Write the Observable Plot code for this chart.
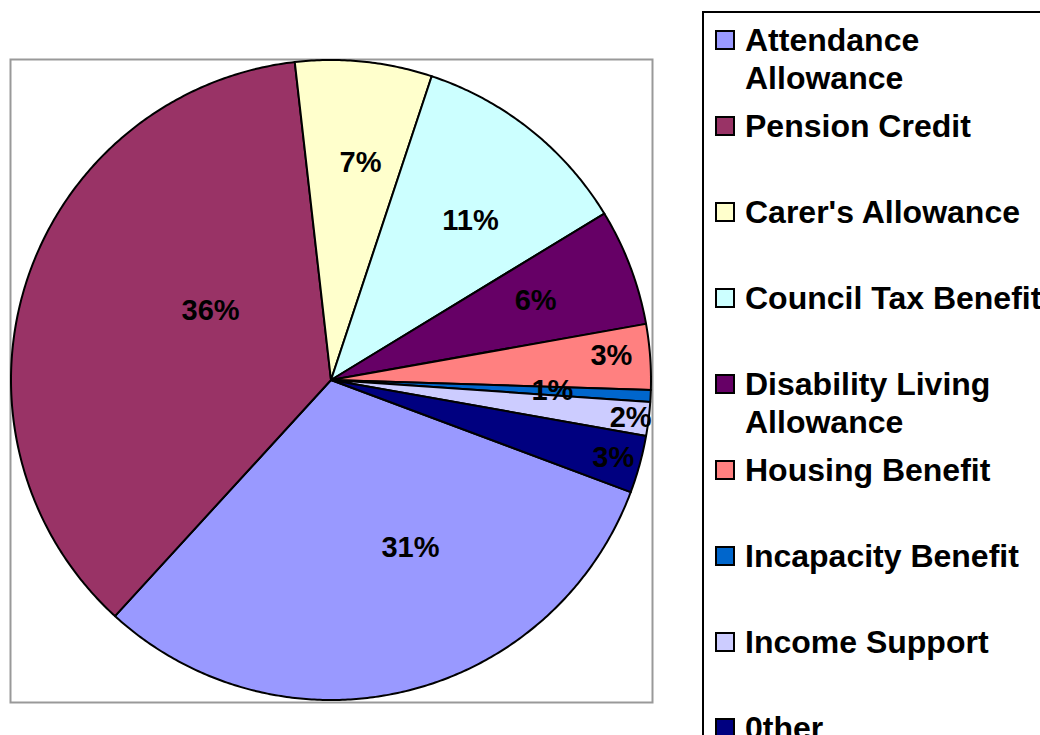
<!DOCTYPE html>
<html><head><meta charset="utf-8">
<script src="https://cdn.jsdelivr.net/npm/d3@7"></script>
<script src="https://cdn.jsdelivr.net/npm/@observablehq/plot@0.6"></script>
<style>
html,body{margin:0;padding:0;background:#fff;overflow:hidden;}
#wrap{position:relative;width:1040px;height:735px;overflow:hidden;background:#fff;}
#chart{position:absolute;left:0;top:0;}
#legend{position:absolute;left:702px;top:11px;width:400px;height:800px;border:2px solid #000;box-sizing:border-box;background:#fff;font-family:"Liberation Sans",Arial,sans-serif;font-weight:bold;font-size:32px;}
.sw{position:absolute;left:11px;width:20px;height:20px;box-sizing:border-box;border:2px solid #000;}
.lb{position:absolute;left:41px;width:320px;line-height:38px;color:#000;}
</style></head><body>
<div id="wrap"><div id="chart"></div><div id="legend"></div></div>
<script>
// Data
const categories = ["Attendance Allowance", "Pension Credit", "Carer's Allowance", "Council Tax Benefit",
  "Disability Living Allowance", "Housing Benefit", "Incapacity Benefit", "Income Support", "0ther"];
const shares = [31.1, 36.4, 6.9, 11.2, 5.9, 3.3, 0.6, 1.7, 2.9];
const colors = ["#9999FF", "#993366", "#FFFFCC", "#CCFFFF", "#660066", "#FF8080", "#0066CC", "#CCCCFF", "#000080"];

// Layout (angles clockwise from 12 o'clock)
const startAngle = 110.5;
const labelAngle = [154.7, 300.1, 7.6, 41.0, 68.6, 85.0, 92.6, 97.05, 105.3];
const labelRadius = [0.577, 0.437, 0.687, 0.662, 0.685, 0.878, 0.691, 0.942, 0.913];

const total = d3.sum(shares);
let acc = startAngle;
const slices = categories.map((name, i) => {
  const a0 = acc, a1 = acc + shares[i] / total * 360;
  acc = a1;
  return {name, a0, a1, value: shares[i]};
});
const rad = Math.PI / 180;
const arcPts = slices.flatMap(s => {
  const n = Math.max(2, Math.ceil((s.a1 - s.a0) / 0.5));
  return d3.range(n + 1).map(k => {
    const t = (s.a0 + (s.a1 - s.a0) * k / n) * rad;
    return {name: s.name, cx: 0, cy: 0, x: Math.sin(t), y: Math.cos(t)};
  });
});
const labels = slices.map((s, i) => ({
  label: Math.round(s.value) + "%",
  x: labelRadius[i] * Math.sin(labelAngle[i] * rad),
  y: labelRadius[i] * Math.cos(labelAngle[i] * rad)
}));

const font = '"Liberation Sans", Arial, sans-serif';
const plot = Plot.plot({
  width: 1040, height: 735,
  marginLeft: 10, marginTop: 59, marginRight: 388, marginBottom: 33,
  style: {fontFamily: font, background: "transparent"},
  x: {domain: [-1, 1], range: [11, 651], axis: null},
  y: {domain: [-1, 1], range: [700, 60], axis: null},
  color: {type: "ordinal", domain: categories, range: colors},
  marks: [
    Plot.frame({stroke: "#999", strokeWidth: 2}),
    Plot.area(arcPts, {x1: "cx", y1: "cy", x2: "x", y2: "y", z: "name", fill: "name",
      stroke: "#000", strokeWidth: 2, strokeLinejoin: "round", curve: "linear"}),
    Plot.text(labels, {x: "x", y: "y", text: "label", fontSize: 29, fontWeight: "bold",
      fontFamily: font, fill: "#000", textAnchor: "middle"})
  ]
});
document.getElementById("chart").appendChild(plot);

// Legend
const legend = document.getElementById("legend");
categories.forEach((name, i) => {
  const sw = document.createElement("div");
  sw.className = "sw";
  sw.style.top = (17 + 86 * i) + "px";
  sw.style.background = colors[i];
  legend.appendChild(sw);
  const lb = document.createElement("div");
  lb.className = "lb";
  lb.style.top = (8 + 86 * i) + "px";
  lb.textContent = name;
  legend.appendChild(lb);
});
</script>
</body></html>
